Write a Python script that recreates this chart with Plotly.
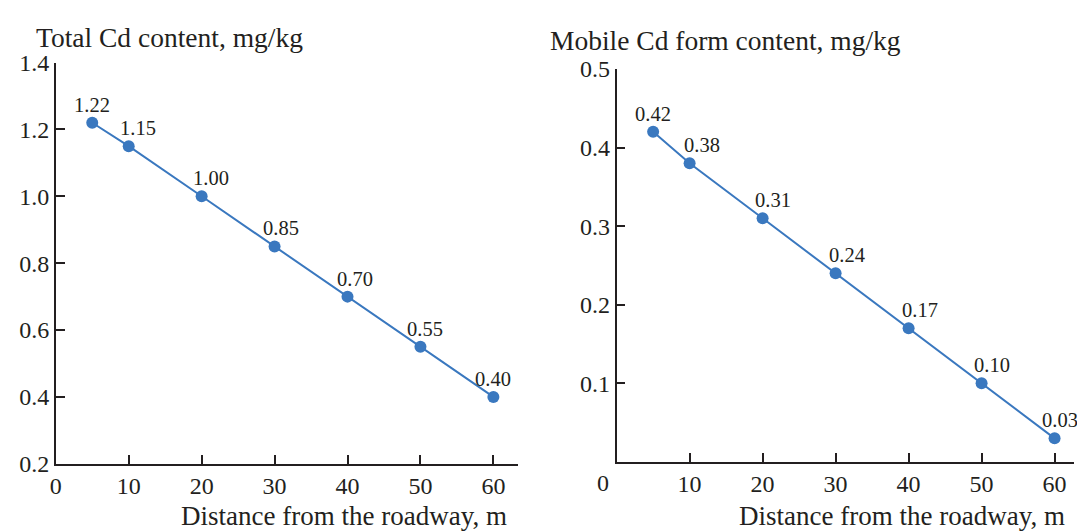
import plotly.graph_objects as go

# ---- data ----
distance = [5, 10, 20, 30, 40, 50, 60]
total_cd = [1.22, 1.15, 1.00, 0.85, 0.70, 0.55, 0.40]
mobile_cd = [0.42, 0.38, 0.31, 0.24, 0.17, 0.10, 0.03]
total_labels = ["1.22", "1.15", "1.00", "0.85", "0.70", "0.55", "0.40"]
mobile_labels = ["0.42", "0.38", "0.31", "0.24", "0.17", "0.10", "0.03"]
x_ticks = [10, 20, 30, 40, 50, 60]
left_y_ticks = [0.2, 0.4, 0.6, 0.8, 1.0, 1.2, 1.4]
right_y_ticks = [0.1, 0.2, 0.3, 0.4, 0.5]
left_title = "Total Cd content, mg/kg"
right_title = "Mobile Cd form content, mg/kg"
x_title = "Distance from the roadway, m"

# page body has an 8px default margin: figure is offset by OFF px
OFF = 8
W, H = 1085 - OFF, 531 - OFF
BLUE = "#3a78bf"
INK = "#231f20"
FONT = "Liberation Serif"

fig = go.Figure()
fig.add_trace(go.Scatter(x=distance, y=total_cd, mode="lines+markers",
                         line=dict(color=BLUE, width=2),
                         marker=dict(color=BLUE, size=12),
                         xaxis="x", yaxis="y", showlegend=False))
fig.add_trace(go.Scatter(x=distance, y=mobile_cd, mode="lines+markers",
                         line=dict(color=BLUE, width=2),
                         marker=dict(color=BLUE, size=12),
                         xaxis="x2", yaxis="y2", showlegend=False))

label_shift = [0, 9, 9, 6, 7, 5, 0]
label_shift2 = [0, 12, 10, 11, 11, 10, 5]
annotations = []
for xv, yv, t, s in zip(distance, total_cd, total_labels, label_shift):
    annotations.append(dict(x=xv, y=yv, xref="x", yref="y", text=t, showarrow=False,
                            xanchor="center", yanchor="middle", xshift=s, yshift=18,
                            font=dict(family=FONT, size=20.5, color=INK)))
for xv, yv, t, s in zip(distance, mobile_cd, mobile_labels, label_shift2):
    annotations.append(dict(x=xv, y=yv, xref="x2", yref="y2", text=t, showarrow=False,
                            xanchor="center", yanchor="middle", xshift=s, yshift=18,
                            font=dict(family=FONT, size=20.5, color=INK)))

def px(xp):
    return (xp - OFF) / W

def py(yp):
    return (H - (yp - OFF)) / H

# axis titles
annotations += [
    dict(x=px(28), y=py(25), xref="paper", yref="paper", text=left_title, showarrow=False,
         xanchor="left", yanchor="middle", font=dict(family=FONT, size=27.5, color=INK)),
    dict(x=px(545), y=py(28), xref="paper", yref="paper", text=right_title, showarrow=False,
         xanchor="left", yanchor="middle", font=dict(family=FONT, size=27.5, color=INK)),
    dict(x=px(506), y=py(529), xref="paper", yref="paper", text=x_title, showarrow=False,
         xanchor="right", yanchor="middle", font=dict(family=FONT, size=27, color=INK)),
    dict(x=px(1067), y=py(529), xref="paper", yref="paper", text=x_title, showarrow=False,
         xanchor="right", yanchor="middle", font=dict(family=FONT, size=27, color=INK)),
    dict(x=px(600), y=py(494), xref="paper", yref="paper", text="0", showarrow=False,
         xanchor="center", yanchor="middle", font=dict(family=FONT, size=24, color=INK)),
]

axis_common = dict(showline=True, linecolor=INK, linewidth=1.5, ticks="inside",
                   ticklen=9, tickwidth=1.5, tickcolor=INK, showgrid=False, zeroline=False,
                   tickfont=dict(family=FONT, size=24, color=INK))

fig.update_layout(
    width=W, height=H,
    margin=dict(l=0, r=0, t=0, b=0),
    paper_bgcolor="white", plot_bgcolor="white",
    xaxis=dict(domain=[px(50), px(515)], range=[0, 63.4], anchor="y",
               tickvals=[0] + x_ticks, ticktext=["0"] + [str(v) for v in x_ticks], **axis_common),
    yaxis=dict(domain=[py(474), py(51.7)], range=[0.2, 1.4], anchor="x",
               tickvals=left_y_ticks, tickformat=".1f", **axis_common),
    xaxis2=dict(domain=[px(614), px(1074)], range=[0, 62.67], anchor="y2",
                tickvals=x_ticks, **axis_common),
    yaxis2=dict(domain=[py(472), py(58.5)], range=[0, 0.5], anchor="x2",
                tickvals=right_y_ticks, tickformat=".1f", **axis_common),
    annotations=annotations,
)

fig.write_html("out.html")
